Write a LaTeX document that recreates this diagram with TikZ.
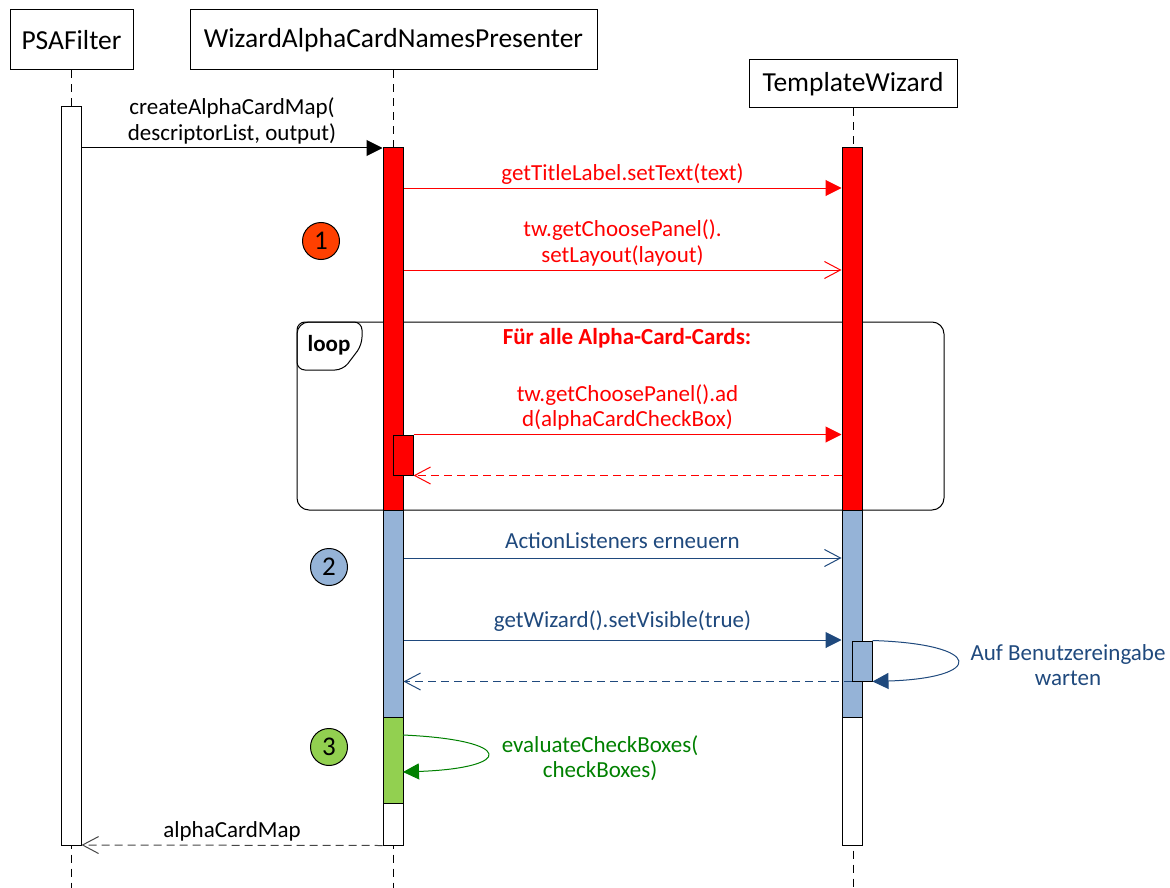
\documentclass[tikz,border=0pt]{standalone}
\usepackage{fontspec}
\setmainfont{Carlito}
\usetikzlibrary{arrows.meta,positioning}

\definecolor{seqred}{RGB}{255,0,0}
\definecolor{stepone}{RGB}{255,64,0}
\definecolor{seqblue}{RGB}{31,73,125}
\definecolor{bluebar}{RGB}{149,179,215}
\definecolor{greenbar}{RGB}{146,208,80}
\definecolor{seqgreen}{RGB}{0,128,0}
\definecolor{retgray}{RGB}{70,70,70}

\tikzset{
	obj/.style={draw, line width=1pt, inner sep=0pt, font=\fontsize{27.5}{32}\selectfont},
	lifeline/.style={line width=1pt, dash pattern=on 8pt off 6pt},
	bar/.style={draw, line width=1pt, minimum width=20pt, inner sep=0pt},
	lbl/.style={font=\fontsize{23}{25.5}\selectfont, align=center},
	call/.style={line width=1pt, -{Triangle[length=16pt,width=16pt]}},
	async/.style={line width=1pt, -{Straight Barb[length=16pt,width=17pt]}},
	reply/.style={line width=1pt, dash pattern=on 8pt off 5pt, -{Straight Barb[length=16pt,width=17pt]}},
	stepnum/.style={circle, draw, line width=1pt, minimum size=37pt, inner sep=0pt, font=\fontsize{27}{30}\selectfont}
}

\begin{document}
\begin{tikzpicture}[x=1pt, y=-1pt]
	\useasboundingbox (0,0) rectangle (1170,888);
	\coordinate (bottom) at (0,888);

	% objects
	\node[obj, minimum width=123pt, minimum height=60pt] (psa) at (71.5,40) {PSAFilter};
	\node[obj, minimum width=407pt, minimum height=60pt] (wiz) at (393.5,40) {WizardAlphaCardNamesPresenter};
	\node[obj, minimum width=208pt, minimum height=48pt] (tw) at (853,84) {TemplateWizard};

	\draw[lifeline] (psa.south) -- (psa.south |- bottom);
	\draw[lifeline] (wiz.south) -- (wiz.south |- bottom);
	\draw[lifeline] (tw.south) -- (tw.south |- bottom);

	% loop frame
	\draw[line width=1pt, rounded corners=12pt] (297,322) rectangle (944,510);
	\draw[line width=1pt, rounded corners=8pt] (297,370) -- (297,322) -- (362,322) -- (362,345) -- (343,370) -- cycle;
	\node[font=\fontsize{23}{25}\selectfont\bfseries] (looplbl) at (329,345) {loop};
	\node[lbl, text=seqred, font=\fontsize{23}{25}\selectfont\bfseries] (cond) at (627,338) {Für alle Alpha-Card-Cards:};

	% activations
	\node[bar, fill=white, minimum height=738pt] (psabar) at (71,476) {};
	\node[bar, fill=seqred, minimum height=362pt] (wred) at (393,329) {};
	\node[bar, fill=bluebar, minimum height=207pt] (wblue) at (393,613.5) {};
	\node[bar, fill=greenbar, minimum height=86pt] (wgreen) at (393,760) {};
	\node[bar, fill=white, minimum height=42pt] (wwhite) at (393,824) {};
	\node[bar, fill=seqred, minimum height=362pt] (tred) at (852,329) {};
	\node[bar, fill=bluebar, minimum height=207pt] (tblue) at (852,613.5) {};
	\node[bar, fill=white, minimum height=128pt] (twhite) at (852,781) {};
	\node[bar, fill=seqred, minimum height=40pt] (wsub) at (403,455) {};
	\node[bar, fill=bluebar, minimum height=40pt] (tsub) at (862,661) {};

	% steps
	\node[stepnum, fill=stepone] (s1) at (321,241) {1};
	\node[stepnum, fill=bluebar] (s2) at (329,567) {2};
	\node[stepnum, fill=greenbar] (s3) at (329,747) {3};

	% messages
	\coordinate (y0) at (0,148);
	\coordinate (y1) at (0,188);
	\coordinate (y2) at (0,270);
	\coordinate (y5) at (0,558);
	\coordinate (y6) at (0,640);
	\coordinate (y9) at (0,845);

	\draw[call] (psabar.east |- y0) -- (wred.west |- y0)
		node[lbl, midway, above=0pt] {createAlphaCardMap(\\descriptorList, output)};
	\draw[call, seqred] (wred.east |- y1) -- (tred.west |- y1)
		node[lbl, midway, above=0pt] {getTitleLabel.setText(text)};
	\draw[async, seqred] (wred.east |- y2) -- (tred.west |- y2)
		node[lbl, midway, above=0pt] {tw.getChoosePanel().\\setLayout(layout)};
	\draw[call, seqred] (wsub.north east) -- (tred.west |- wsub.north)
		node[lbl, midway, above=0pt] {tw.getChoosePanel().ad\\d(alphaCardCheckBox)};
	\draw[reply, seqred] (tred.west |- wsub.south) -- (wsub.south east);

	\draw[async, seqblue] (wblue.east |- y5) -- (tblue.west |- y5)
		node[lbl, midway, above=6pt] {ActionListeners erneuern};
	\draw[call, seqblue] (wblue.east |- y6) -- (tblue.west |- y6)
		node[lbl, midway, above=5pt] {getWizard().setVisible(true)};
	\draw[call, seqblue] (tsub.north east) .. controls (985,644) and (985,678) .. (tsub.south east);
	\node[lbl, text=seqblue] (waitlbl) at (1068,665) {Auf Benutzereingabe\\warten};
	\draw[reply, seqblue] (tsub.south west) -- (wblue.east |- tsub.south);

	\coordinate (g0) at (403,735);
	\coordinate (g1) at (403,772);
	\draw[call, seqgreen] (g0) .. controls (515,740) and (515,768) .. (g1);
	\node[lbl, text=seqgreen] (evallbl) at (600,758) {evaluateCheckBoxes(\\checkBoxes)};

	\draw[reply, retgray] (wwhite.south west) -- (psabar.east |- y9)
		node[lbl, midway, above=0pt, text=black] {alphaCardMap};
\end{tikzpicture}
\end{document}
